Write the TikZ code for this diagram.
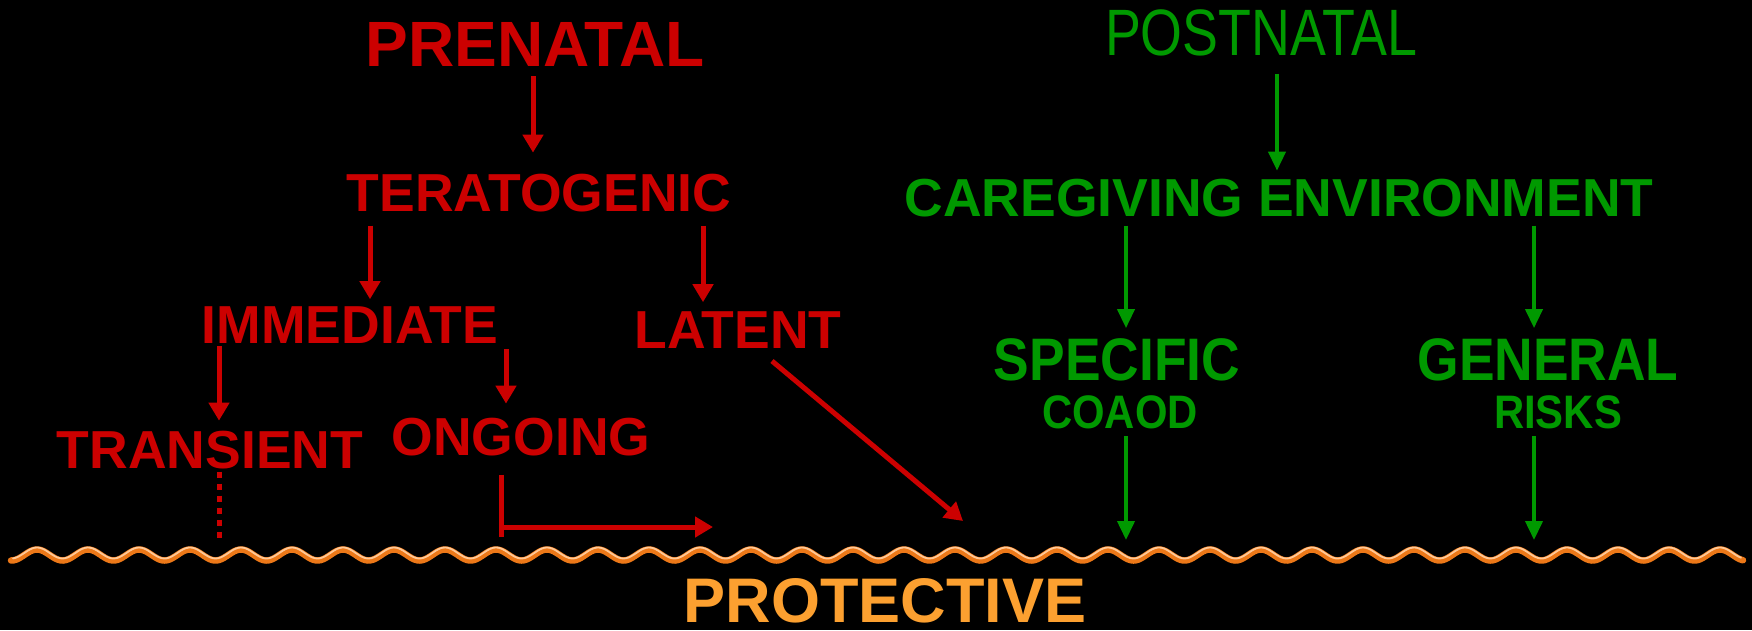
\documentclass[tikz,border=0pt]{standalone}
\usepackage{fontspec}
\setmainfont{Liberation Sans}
\newfontfamily\narrowfont[FakeStretch=0.82]{Liberation Sans}
\newfontfamily\condfont[FakeStretch=0.89]{Liberation Sans}
\usetikzlibrary{arrows.meta,calc}
\definecolor{myred}{RGB}{204,0,0}
\definecolor{mygreen}{RGB}{0,153,0}
\definecolor{myorange}{RGB}{252,160,48}
\definecolor{waveorange}{RGB}{236,120,24}
\definecolor{wavelight}{RGB}{255,200,150}
\tikzset{
  lbl/.style={inner sep=0pt, outer sep=0pt, anchor=base},
  rtxt/.style={lbl, text=myred, font=\fontsize{53.5}{53.5}\selectfont\bfseries},
  gtxt/.style={lbl, text=mygreen, font=\fontsize{53.5}{53.5}\selectfont\bfseries},
  gcond/.style={lbl, text=mygreen, font=\fontsize{60}{60}\selectfont\condfont\bfseries},
  gsmall/.style={lbl, text=mygreen, font=\fontsize{47}{47}\selectfont\condfont\bfseries},
  rarr/.style={draw=myred, line width=5pt, -{Triangle[length=18pt,width=20pt]}},
  rline/.style={draw=myred, line width=5pt},
  rdots/.style={draw=myred, line width=5pt, dash pattern=on 6pt off 6pt},
  garr/.style={draw=mygreen, line width=3.8pt, -{Triangle[length=19pt,width=17pt]}}
}
\begin{document}
\begin{tikzpicture}[x=1pt,y=-1pt]
\fill[black] (0,0) rectangle (1752,630);
\useasboundingbox (0,0) rectangle (1752,630);

% wavy protective line
\draw[waveorange, line width=6.5pt, line cap=round]
  plot[domain=11:1743, samples=700] (\x,{555-5.5*cos(7.0588*(\x-37))});
\draw[wavelight, line width=1.8pt, line cap=round]
  plot[domain=13:1741, samples=700] (\x,{553-5.5*cos(7.0588*(\x-37))});

% red (prenatal) nodes
\node[rtxt, font=\fontsize{64}{64}\selectfont\bfseries] (pre) at (535,66) {PRENATAL};
\node[rtxt] (ter) at (539,211) {TERATOGENIC};
\node[rtxt] (imm) at (350,343) {IMMEDIATE};
\node[rtxt] (lat) at (738,348) {LATENT};
\node[rtxt] (tra) at (210,468) {TRANSIENT};
\node[rtxt] (ong) at (521,455) {ONGOING};

% green (postnatal) nodes
\node[lbl, text=mygreen, font=\fontsize{65.6}{65.6}\selectfont\narrowfont] (post) at (1261,55) {POSTNATAL};
\node[gtxt] (care) at (1279,216) {CAREGIVING ENVIRONMENT};
\node[gcond] (spec) at (1117,380) {SPECIFIC};
\node[gcond] (gen) at (1548,380) {GENERAL};
\node[gsmall] (coaod) at (1120,428) {COAOD};
\node[gsmall] (risks) at (1558,428) {RISKS};

% protective label
\node[lbl, text=myorange, font=\fontsize{63}{63}\selectfont\bfseries] (prot) at (885,622) {PROTECTIVE};

% wave end points for arrows
\coordinate (w1) at (1126,540);
\coordinate (w2) at (1534,540);
\coordinate (wl) at (963,521);
\coordinate (wo) at (713,527);
\coordinate (wt) at (219,542);

% red connectors
\draw[rarr] ($(pre.south -| 533,0)+(0,10)$) -- ($(ter.north -| 533,0)+(0,-21)$);
\draw[rarr] ($(ter.south -| 370,0)+(0,14)$) -- ($(imm.north -| 370,0)+(0,-7)$);
\draw[rarr] ($(ter.south -| 703,0)+(0,14)$) -- ($(lat.north -| 703,0)+(0,-9)$);
\draw[rarr] ($(imm.south -| 219,0)+(0,3)$) -- ($(tra.north -| 219,0)+(0,-10)$);
\draw[rarr] ($(imm.south -| 506,0)+(0,6)$) -- ($(ong.north -| 506,0)+(0,-14)$);
\draw[rdots] ($(tra.south -| wt)+(0,3)$) -- (wt);
\draw[rline] ($(ong.south -| 501,0)+(0,19)$) -- ($(wo -| 501,0)+(0,10)$);
\draw[rarr] (wo -| 504,0) -- (wo);
\draw[rarr] ($(lat.south -| 772,0)+(0,13)$) -- (wl);

% green connectors
\draw[garr] ($(post.south -| 1277,0)+(0,18)$) -- ($(care.north -| 1277,0)+(0,-8)$);
\draw[garr] ($(care.south -| 1126,0)+(0,9)$) -- ($(spec.north -| 1126,0)+(0,-10)$);
\draw[garr] ($(care.south -| 1534,0)+(0,9)$) -- ($(gen.north -| 1534,0)+(0,-10)$);
\draw[garr] ($(coaod.south -| w1)+(0,8)$) -- (w1);
\draw[garr] ($(risks.south -| w2)+(0,8)$) -- (w2);
\end{tikzpicture}
\end{document}
